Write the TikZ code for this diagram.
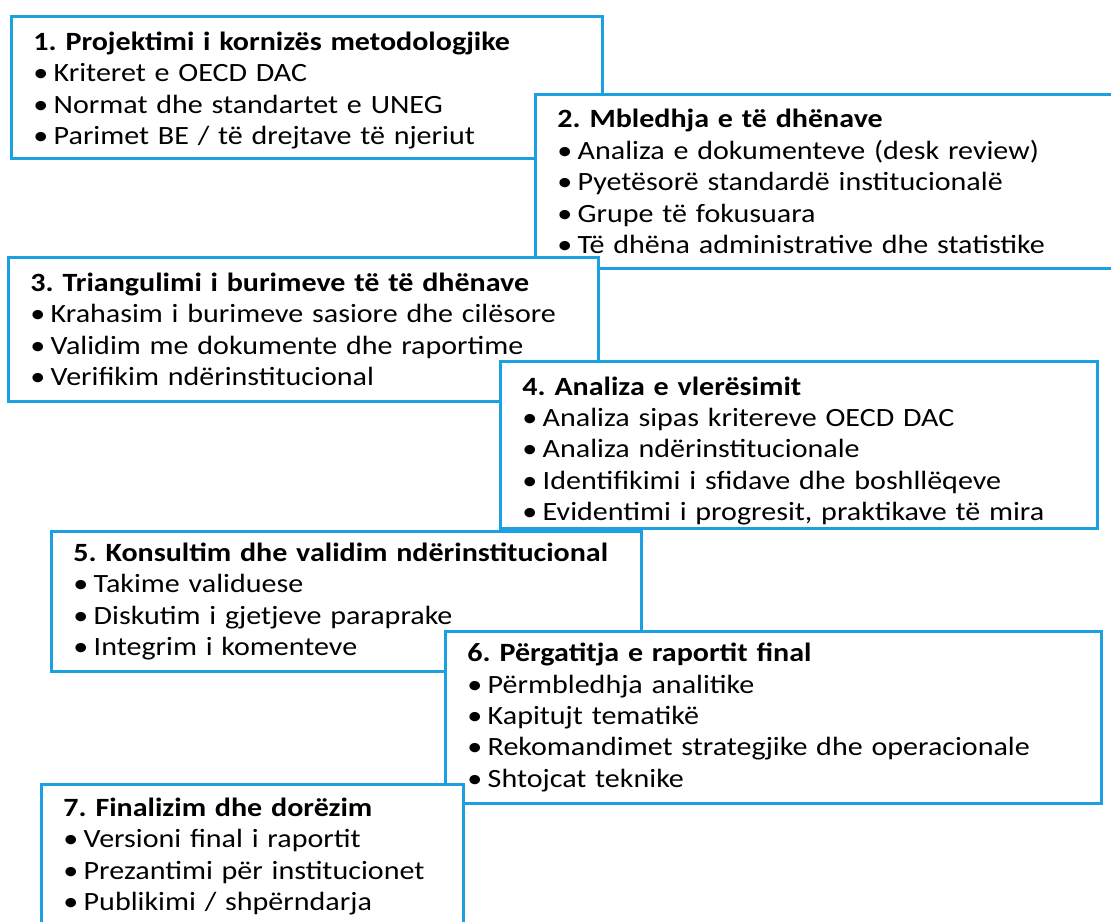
\documentclass[tikz,border=0pt]{standalone}
\usepackage{fontspec}
\setmainfont[FakeStretch=1.14]{Carlito}
\usepackage{xcolor}
\definecolor{stageblue}{RGB}{27,161,226}
\frenchspacing
\newcommand{\bul}{•\hskip0.2em}

\begin{document}
\begin{tikzpicture}[x=0.02cm, y=-0.02cm,
    stage/.style={rectangle, draw=stageblue, line width=1.7pt, fill=white,
        anchor=north west, align=left, inner xsep=0.44cm, inner ysep=2pt,
        font=\fontsize{15}{17.9}\selectfont}
]
    \useasboundingbox (0,0) rectangle (1111,921);

    \node[stage, text width=10.94cm, minimum height=2.84cm] (s1) at (10,15)
        {\rule{0pt}{0.49cm}\textbf{1. Projektimi i kornizës metodologjike}\\
         \bul Kriteret e OECD DAC\\
         \bul Normat dhe standartet e UNEG\\
         \bul Parimet BE / të drejtave të njeriut};

    \node[stage, text width=10.68cm, minimum height=3.48cm] (s2) at (534,93)
        {\textbf{2. Mbledhja e të dhënave}\\
         \bul Analiza e dokumenteve (desk review)\\
         \bul Pyetësorë standardë institucionalë\\
         \bul Grupe të fokusuara\\
         \bul Të dhëna administrative dhe statistike};

    \node[stage, text width=10.92cm, minimum height=2.88cm] (s3) at (7,256)
        {\textbf{3. Triangulimi i burimeve të të dhënave}\\
         \bul Krahasim i burimeve sasiore dhe cilësore\\
         \bul Validim me dokumente dhe raportime\\
         \bul Verifikim ndërinstitucional};

    \node[stage, text width=11.06cm, minimum height=3.26cm] (s4) at (499,360)
        {\rule{0pt}{0.6cm}\textbf{4. Analiza e vlerësimit}\\
         \bul Analiza sipas kritereve OECD DAC\\
         \bul Analiza ndërinstitucionale\\
         \bul Identifikimi i sfidave dhe boshllëqeve\\
         \bul Evidentimi i progresit, praktikave të mira};

    \node[stage, text width=10.92cm, minimum height=2.8cm] (s5) at (50,530)
        {\textbf{5. Konsultim dhe validim ndërinstitucional}\\
         \bul Takime validuese\\
         \bul Diskutim i gjetjeve paraprake\\
         \bul Integrim i komenteve};

    \node[stage, text width=12.24cm, minimum height=3.44cm] (s6) at (444,630)
        {\textbf{6. Përgatitja e raportit final}\\
         \bul Përmbledhja analitike\\
         \bul Kapitujt tematikë\\
         \bul Rekomandimet strategjike dhe operacionale\\
         \bul Shtojcat teknike};

    \node[stage, text width=7.56cm, minimum height=2.88cm] (s7) at (40,783)
        {\textbf{7. Finalizim dhe dorëzim}\\
         \bul Versioni final i raportit\\
         \bul Prezantimi për institucionet\\
         \bul Publikimi / shpërndarja};
\end{tikzpicture}
\end{document}
